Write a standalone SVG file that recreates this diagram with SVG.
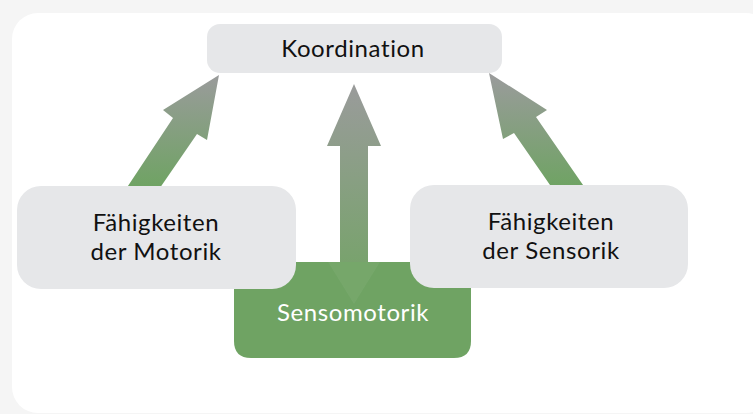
<svg xmlns="http://www.w3.org/2000/svg" width="753" height="414" viewBox="0 0 753 414">
  <style>
    .box { fill: #e6e7e9; }
    .green { fill: #6fa363; }
    .lbl { font-family: Lato, "Open Sans", "Liberation Sans", sans-serif; font-size: 24px; letter-spacing: 0.6px; text-anchor: middle; fill: #111111; }
    .wlbl { font-family: Lato, "Open Sans", "Liberation Sans", sans-serif; font-size: 24px; letter-spacing: 0.6px; text-anchor: middle; fill: #ffffff; }
  </style>
  <defs>
    <linearGradient id="gL" gradientUnits="userSpaceOnUse" x1="0" y1="75" x2="0" y2="187">
      <stop offset="0" stop-color="#9a9b9b"/>
      <stop offset="1" stop-color="#6fa363"/>
    </linearGradient>
    <linearGradient id="gC" gradientUnits="userSpaceOnUse" x1="0" y1="84" x2="0" y2="300">
      <stop offset="0" stop-color="#9a9b9b"/>
      <stop offset="1" stop-color="#72a464"/>
    </linearGradient>
  </defs>
  <rect x="0" y="0" width="753" height="414" fill="#f5f5f5"/>
  <rect x="12" y="13" width="760" height="400" rx="26" fill="#ffffff"/>

  <g id="connectors">
    <polygon points="219,75 163,110 173,118 120,198 153,198 197,134 207,140" fill="url(#gL)"/>
    <polygon points="489,73 547,110 536,117 592,198 559,198 514,133 503,139" fill="url(#gL)"/>
    <polygon points="354,84 381,146 368,146 368,262 340,262 340,146 327,146" fill="url(#gC)"/>
  </g>

  <g id="sensomotorik">
    <path class="green" d="M234,262 H471 V341 Q471,358 454,358 H251 Q234,358 234,341 Z"/>
    <polygon points="328,262 380,262 354,304" fill="#ffffff" fill-opacity="0.05"/>
    <text class="wlbl" x="353" y="321">Sensomotorik</text>
  </g>

  <g id="koordination">
    <rect class="box" x="207" y="24" width="295" height="49" rx="13"/>
    <text class="lbl" x="353" y="57">Koordination</text>
  </g>

  <g id="motorik">
    <rect class="box" x="17" y="186" width="279" height="103" rx="24"/>
    <text class="lbl" x="156" y="231">Fähigkeiten</text>
    <text class="lbl" x="156" y="260">der Motorik</text>
  </g>

  <g id="sensorik">
    <rect class="box" x="410" y="185" width="278" height="103" rx="24"/>
    <text class="lbl" x="551" y="230">Fähigkeiten</text>
    <text class="lbl" x="551" y="259">der Sensorik</text>
  </g>
</svg>
